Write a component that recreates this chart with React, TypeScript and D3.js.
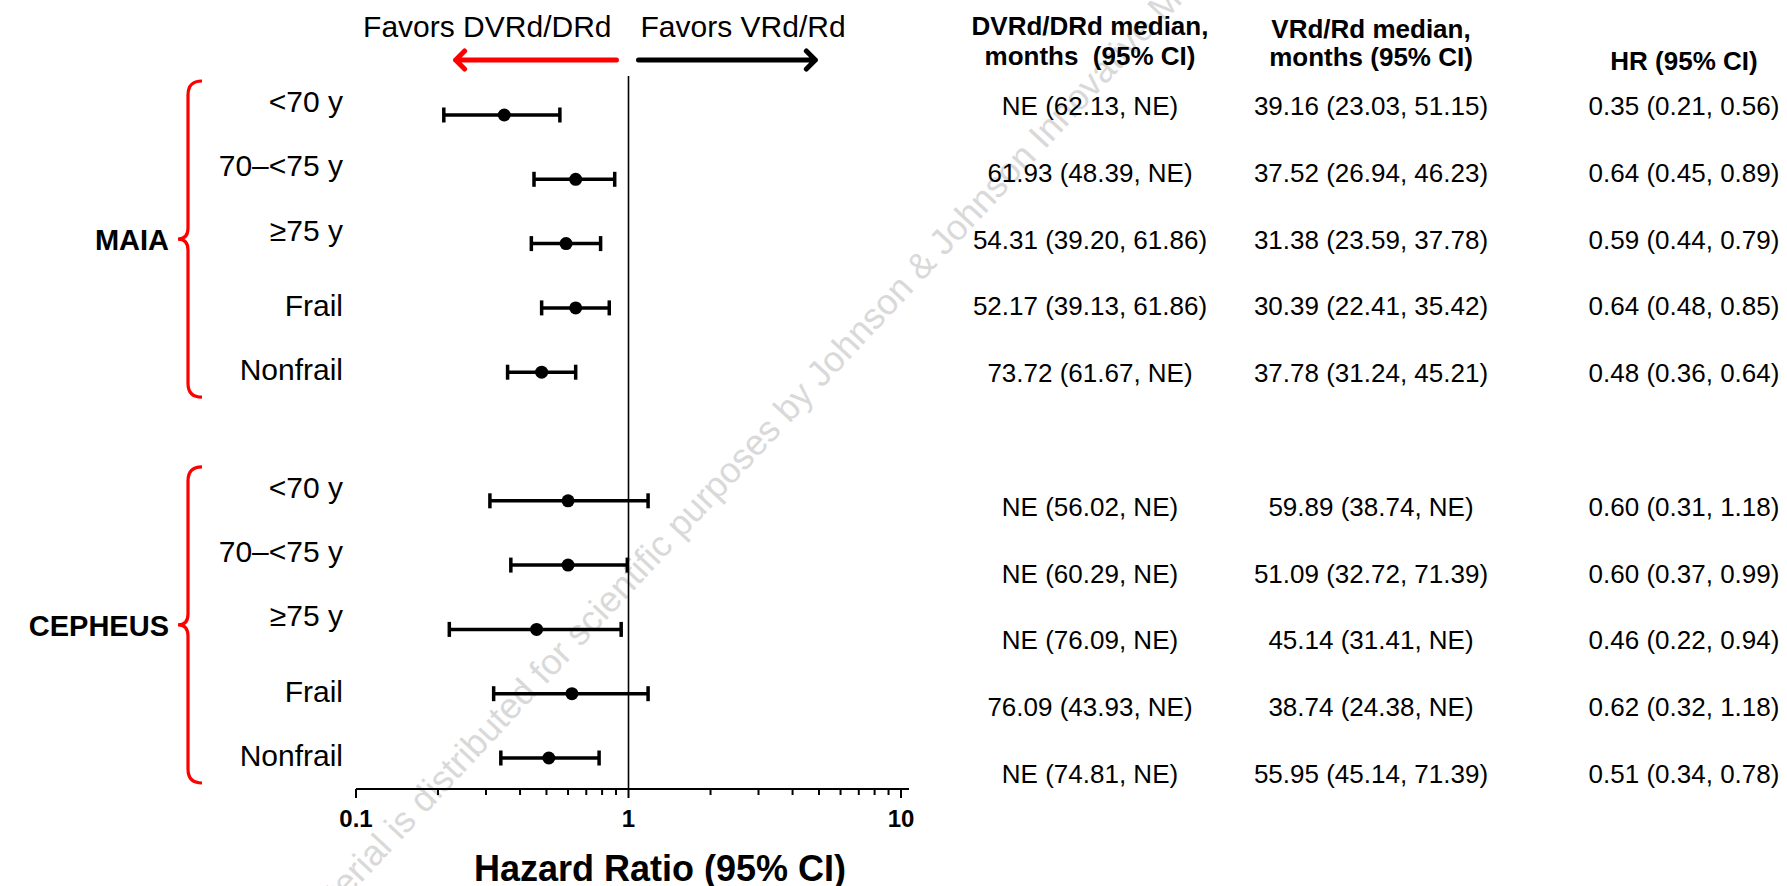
// Forest plot: PFS by age / frailty subgroup, MAIA and CEPHEUS
import { useRef, useEffect } from 'react'
import * as d3 from 'd3'

const STUDIES = ['MAIA', 'CEPHEUS']
const SUBGROUPS = ['<70 y', '70–<75 y', '≥75 y', 'Frail', 'Nonfrail']
const SUBGROUP_KIND = ['age', 'age', 'age', 'frailty', 'frailty']

const MAIA_HR = [0.35, 0.64, 0.59, 0.64, 0.48]
const MAIA_LO = [0.21, 0.45, 0.44, 0.48, 0.36]
const MAIA_HI = [0.56, 0.89, 0.79, 0.85, 0.64]
const CEPHEUS_HR = [0.60, 0.60, 0.46, 0.62, 0.51]
const CEPHEUS_LO = [0.31, 0.37, 0.22, 0.32, 0.34]
const CEPHEUS_HI = [1.18, 0.99, 0.94, 1.18, 0.78]

const MAIA_DVRD = ['NE (62.13, NE)', '61.93 (48.39, NE)', '54.31 (39.20, 61.86)', '52.17 (39.13, 61.86)', '73.72 (61.67, NE)']
const MAIA_VRD = ['39.16 (23.03, 51.15)', '37.52 (26.94, 46.23)', '31.38 (23.59, 37.78)', '30.39 (22.41, 35.42)', '37.78 (31.24, 45.21)']
const CEPHEUS_DVRD = ['NE (56.02, NE)', 'NE (60.29, NE)', 'NE (76.09, NE)', '76.09 (43.93, NE)', 'NE (74.81, NE)']
const CEPHEUS_VRD = ['59.89 (38.74, NE)', '51.09 (32.72, 71.39)', '45.14 (31.41, NE)', '38.74 (24.38, NE)', '55.95 (45.14, 71.39)']

const X_TICKS = [0.1, 1, 10]
const FAVORS_LEFT = 'Favors DVRd/DRd'
const FAVORS_RIGHT = 'Favors VRd/Rd'
const AXIS_TITLE = 'Hazard Ratio (95% CI)'
const HEADERS = [
  ['DVRd/DRd median,', 'months  (95% CI)'],
  ['VRd/Rd median,', 'months (95% CI)'],
  ['', 'HR (95% CI)'],
]
const WATERMARK = 'This material is distributed for scientific purposes by Johnson & Johnson Innovative Medicine'

const FONT = '"Liberation Sans", Arial, sans-serif'
const RED = '#ff0000'

export default function App() {
  const svgRef = useRef<SVGSVGElement>(null)

  useEffect(() => {
    const width = 1787
    const height = 886
    const svg = d3.select(svgRef.current)
      .attr('width', width)
      .attr('height', height)
    svg.selectAll('*').remove()

    // filas: índice 0-4 MAIA, 6-10 CEPHEUS
    const rows = STUDIES.flatMap((study, s) => SUBGROUPS.map((label, i) => {
      const hr = s === 0 ? MAIA_HR : CEPHEUS_HR
      const lo = s === 0 ? MAIA_LO : CEPHEUS_LO
      const hi = s === 0 ? MAIA_HI : CEPHEUS_HI
      const dv = s === 0 ? MAIA_DVRD : CEPHEUS_DVRD
      const vr = s === 0 ? MAIA_VRD : CEPHEUS_VRD
      return {
        study, label, kind: SUBGROUP_KIND[i], idx: s * 6 + i,
        hr: hr[i], lo: lo[i], hi: hi[i], dvrd: dv[i], vrd: vr[i],
      }
    }))

    const x = d3.scaleLog().domain([0.1, 10]).range([356, 901])
    const y = d3.scaleLinear().domain([0, 10]).range([115, 758])
    const yTable = d3.scaleLinear().domain([0, 10]).range([115, 783])
    const axisY = 789
    const colX = [1090, 1371, 1684]

    // marca de agua
    svg.append('text')
      .attr('transform', 'translate(253,999) rotate(-47)')
      .attr('font-family', FONT)
      .attr('font-size', 36)
      .attr('fill', '#d9d9d9')
      .text(WATERMARK)

    // Favors
    svg.append('text')
      .attr('x', x(1) - 17).attr('y', 37)
      .attr('text-anchor', 'end')
      .attr('font-family', FONT).attr('font-size', 30)
      .text(FAVORS_LEFT)
    svg.append('text')
      .attr('x', x(1) + 12).attr('y', 37)
      .attr('font-family', FONT).attr('font-size', 30)
      .text(FAVORS_RIGHT)

    const arrowY = 60
    const redArrow = d3.path()
    redArrow.moveTo(x(1) - 12, arrowY)
    redArrow.lineTo(x(0.232), arrowY)
    redArrow.moveTo(x(0.232) + 9, arrowY - 9)
    redArrow.lineTo(x(0.232), arrowY)
    redArrow.lineTo(x(0.232) + 9, arrowY + 9)
    svg.append('path').attr('d', redArrow.toString())
      .attr('fill', 'none').attr('stroke', RED).attr('stroke-width', 5)
      .attr('stroke-linecap', 'round').attr('stroke-linejoin', 'round')

    const blackArrow = d3.path()
    blackArrow.moveTo(x(1) + 10, arrowY)
    blackArrow.lineTo(x(4.85), arrowY)
    blackArrow.moveTo(x(4.85) - 9, arrowY - 9)
    blackArrow.lineTo(x(4.85), arrowY)
    blackArrow.lineTo(x(4.85) - 9, arrowY + 9)
    svg.append('path').attr('d', blackArrow.toString())
      .attr('fill', 'none').attr('stroke', '#000').attr('stroke-width', 5)
      .attr('stroke-linecap', 'round').attr('stroke-linejoin', 'round')

    // línea de no efecto
    svg.append('line')
      .attr('x1', x(1)).attr('x2', x(1))
      .attr('y1', 76).attr('y2', axisY)
      .attr('stroke', '#000').attr('stroke-width', 1.6)

    // eje x logarítmico
    const g = svg.append('g').attr('transform', `translate(0,${axisY})`)
    g.append('line')
      .attr('x1', x(0.1)).attr('x2', x(10) + 8)
      .attr('stroke', '#000').attr('stroke-width', 2)
    const allTicks = x.ticks()
    g.selectAll('line.tick')
      .data(allTicks)
      .join('line')
      .attr('class', 'tick')
      .attr('x1', d => x(d)).attr('x2', d => x(d))
      .attr('y1', 0)
      .attr('y2', d => X_TICKS.includes(d) ? 9 : 6)
      .attr('stroke', '#000').attr('stroke-width', 2)
    g.selectAll('text.tl')
      .data(X_TICKS)
      .join('text')
      .attr('class', 'tl')
      .attr('x', d => x(d)).attr('y', 38)
      .attr('text-anchor', 'middle')
      .attr('font-family', FONT).attr('font-size', 24).attr('font-weight', 'bold')
      .text(d => String(d))
    svg.append('text')
      .attr('x', 660).attr('y', 881)
      .attr('text-anchor', 'middle')
      .attr('font-family', FONT).attr('font-size', 36).attr('font-weight', 'bold')
      .text(AXIS_TITLE)

    // llaves y nombres de estudio
    STUDIES.forEach((study, s) => {
      const top = y(s * 6) - 34
      const bot = y(s * 6 + 4) + 25
      const mid = (top + bot) / 2
      const bx = 188
      const p = d3.path()
      p.moveTo(bx + 14, top)
      p.quadraticCurveTo(bx, top, bx, top + 14)
      p.lineTo(bx, mid - 11)
      p.quadraticCurveTo(bx, mid, bx - 10, mid)
      p.quadraticCurveTo(bx, mid, bx, mid + 11)
      p.lineTo(bx, bot - 14)
      p.quadraticCurveTo(bx, bot, bx + 14, bot)
      svg.append('path').attr('d', p.toString())
        .attr('fill', 'none').attr('stroke', RED).attr('stroke-width', 3.2)
      svg.append('text')
        .attr('x', 169).attr('y', mid + 11)
        .attr('text-anchor', 'end')
        .attr('font-family', FONT).attr('font-size', 29).attr('font-weight', 'bold')
        .text(study)
    })

    // etiquetas de subgrupo
    svg.selectAll('text.sub')
      .data(rows)
      .join('text')
      .attr('class', 'sub')
      .attr('x', 343)
      .attr('y', d => y(d.idx) + (d.kind === 'age' ? -3 : 8))
      .attr('text-anchor', 'end')
      .attr('font-family', FONT).attr('font-size', 30)
      .text(d => d.label)

    // IC 95%
    const ci = svg.append('g')
    ci.selectAll('line.ci')
      .data(rows)
      .join('line')
      .attr('class', 'ci')
      .attr('x1', d => x(d.lo)).attr('x2', d => x(d.hi))
      .attr('y1', d => y(d.idx)).attr('y2', d => y(d.idx))
      .attr('stroke', '#000').attr('stroke-width', 3.5)
    ci.selectAll('line.capl')
      .data(rows)
      .join('line')
      .attr('class', 'capl')
      .attr('x1', d => x(d.lo)).attr('x2', d => x(d.lo))
      .attr('y1', d => y(d.idx) - 7.5).attr('y2', d => y(d.idx) + 7.5)
      .attr('stroke', '#000').attr('stroke-width', 3.5)
    ci.selectAll('line.caph')
      .data(rows)
      .join('line')
      .attr('class', 'caph')
      .attr('x1', d => x(d.hi)).attr('x2', d => x(d.hi))
      .attr('y1', d => y(d.idx) - 7.5).attr('y2', d => y(d.idx) + 7.5)
      .attr('stroke', '#000').attr('stroke-width', 3.5)
    ci.selectAll('circle')
      .data(rows)
      .join('circle')
      .attr('cx', d => x(d.hr)).attr('cy', d => y(d.idx))
      .attr('r', 6.5)
      .attr('fill', '#000')

    // encabezados de tabla
    const headerY = [[35, 65], [38, 66], [0, 70]]
    HEADERS.forEach((lines, c) => {
      lines.forEach((t, l) => {
        if (!t) return
        svg.append('text')
          .attr('x', colX[c])
          .attr('y', headerY[c][l])
          .attr('text-anchor', 'middle')
          .attr('font-family', FONT).attr('font-size', 26).attr('font-weight', 'bold')
          .style('white-space', 'pre')
          .text(t)
      })
    })

    // valores de tabla
    const cols: ((d: typeof rows[number]) => string)[] = [
      d => d.dvrd,
      d => d.vrd,
      d => `${d.hr.toFixed(2)} (${d.lo.toFixed(2)}, ${d.hi.toFixed(2)})`,
    ]
    cols.forEach((fn, c) => {
      svg.selectAll(`text.col${c}`)
        .data(rows)
        .join('text')
        .attr('class', `col${c}`)
        .attr('x', colX[c])
        .attr('y', d => yTable(d.idx))
        .attr('text-anchor', 'middle')
        .attr('font-family', FONT).attr('font-size', 26)
        .text(fn)
    })
  }, [])

  return <svg ref={svgRef} style={{ position: 'absolute', left: 0, top: 0, display: 'block', background: '#fff' }} />
}
